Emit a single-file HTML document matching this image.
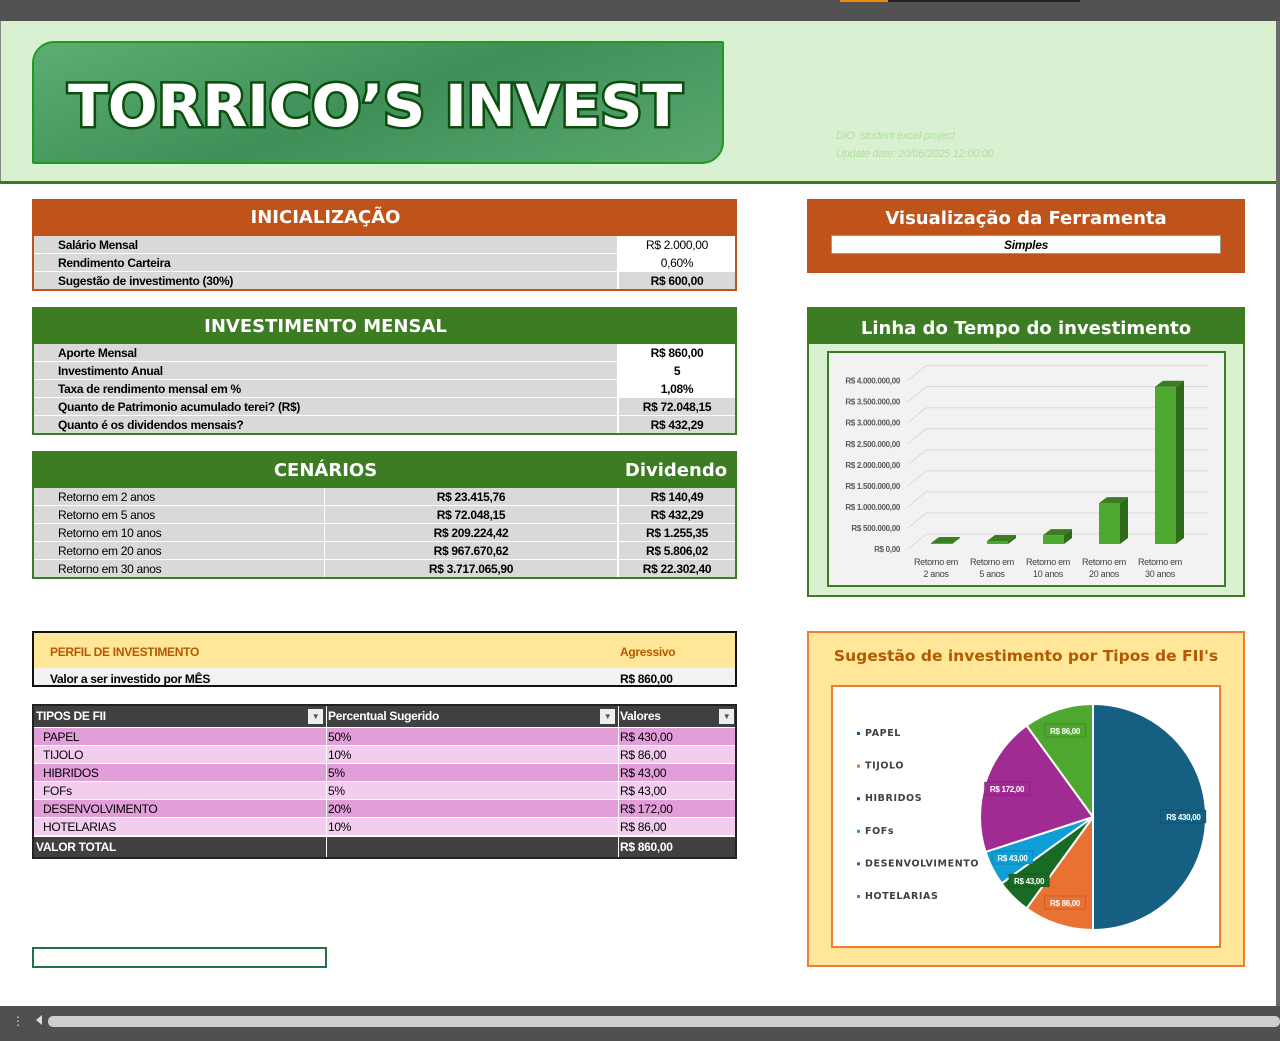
<!DOCTYPE html>
<html><head><meta charset="utf-8">
<style>
*{box-sizing:border-box;margin:0;padding:0}
body{width:1280px;height:1041px;position:relative;overflow:hidden;background:#fff;font-family:"Liberation Sans Narrow","Liberation Sans",sans-serif;font-size:12px;letter-spacing:-0.3px;color:#000}
.abs{position:absolute}
.hdr{color:#fff;font-family:"DejaVu Sans","Liberation Sans",sans-serif;font-weight:bold;font-size:18px;text-align:center;letter-spacing:0}
.row{position:absolute;left:0;height:18px;line-height:19px;border-bottom:1px solid #fff}
.lab{position:absolute;left:0;top:0;height:17px;background:#d9d9d9;padding-left:24px;font-weight:bold}
.val{position:absolute;top:0;height:17px;text-align:center}
.w{background:#fff}.g{background:#d9d9d9;font-weight:bold}
</style></head><body>
<div class="abs" style="left:0;top:0;width:1280px;height:21px;background:#525252"></div>
<div class="abs" style="left:840px;top:0;width:48px;height:2px;background:#f08a00"></div>
<div class="abs" style="left:888px;top:0;width:192px;height:2px;background:#222"></div>
<div class="abs" style="left:1276px;top:21px;width:4px;height:990px;background:#6a6a6a"></div>
<div class="abs" style="left:0;top:21px;width:1276px;height:161px;background:#daf1d1;border-left:1px solid #888"></div>
<div class="abs" style="left:0;top:181px;width:1276px;height:3px;background:#3a7a20"></div>
<div class="abs" style="left:32px;top:41px;width:692px;height:123px;background:linear-gradient(160deg,#5cae73,#3f8f58 50%,#5aa870);border:2px solid #1f9a1f;border-radius:22px 2px 22px 2px">
<svg width="692" height="123" style="position:absolute;left:-2px;top:-2px"><text x="36" y="85" textLength="614" lengthAdjust="spacingAndGlyphs" font-family="DejaVu Sans, Liberation Sans, sans-serif" font-weight="bold" font-size="58" fill="#fff" stroke="#0d4d0d" stroke-width="5" paint-order="stroke">TORRICO’S INVEST</text></svg></div>
<div class="abs" style="left:836px;top:130px;color:#b0dfa0;font-size:11px;font-style:italic">DIO&nbsp; student excel project</div>
<div class="abs" style="left:836px;top:148px;color:#b0dfa0;font-size:11px;font-style:italic">Update date: 20/06/2025 12:00:00</div>

<!-- INICIALIZACAO -->
<div class="abs" style="left:32px;top:199px;width:705px;height:92px;background:#c0531a;padding:0 2px 2px 2px">
<div class="hdr abs" style="left:0;top:8px;width:587px">INICIALIZAÇÃO</div>
<div class="abs" style="left:2px;top:37px;width:701px;height:53px;background:#fff">
<div class="row" style="top:0;width:701px"><div class="lab" style="width:583px">Salário Mensal</div><div class="val w" style="left:585px;width:116px;font-weight:normal">R$ 2.000,00</div></div>
<div class="row" style="top:18px;width:701px"><div class="lab" style="width:583px">Rendimento Carteira</div><div class="val w" style="left:585px;width:116px">0,60%</div></div>
<div class="row" style="top:36px;width:701px;border:0"><div class="lab" style="width:583px">Sugestão de investimento (30%)</div><div class="val g" style="left:585px;width:116px">R$ 600,00</div></div>
</div></div>

<!-- INVESTIMENTO MENSAL -->
<div class="abs" style="left:32px;top:307px;width:705px;height:128px;background:#3c7c22">
<div class="hdr abs" style="left:0;top:9px;width:587px">INVESTIMENTO MENSAL</div>
<div class="abs" style="left:2px;top:37px;width:701px;height:89px;background:#fff">
<div class="row" style="top:0;width:701px"><div class="lab" style="width:583px">Aporte Mensal</div><div class="val w" style="left:585px;width:116px;font-weight:bold">R$ 860,00</div></div>
<div class="row" style="top:18px;width:701px"><div class="lab" style="width:583px">Investimento Anual</div><div class="val w" style="left:585px;width:116px;font-weight:bold">5</div></div>
<div class="row" style="top:36px;width:701px"><div class="lab" style="width:583px">Taxa de rendimento mensal em %</div><div class="val w" style="left:585px;width:116px;font-weight:bold">1,08%</div></div>
<div class="row" style="top:54px;width:701px"><div class="lab" style="width:583px">Quanto de Patrimonio acumulado terei? (R$)</div><div class="val g" style="left:585px;width:116px">R$ 72.048,15</div></div>
<div class="row" style="top:72px;width:701px;border:0"><div class="lab" style="width:583px">Quanto é os dividendos mensais?</div><div class="val g" style="left:585px;width:116px">R$ 432,29</div></div>
</div></div>

<!-- CENARIOS -->
<div class="abs" style="left:32px;top:451px;width:705px;height:128px;background:#3c7c22">
<div class="hdr abs" style="left:0;top:9px;width:587px">CENÁRIOS</div>
<div class="hdr abs" style="left:585px;top:9px;width:118px">Dividendo</div>
<div class="abs" id="cen" style="left:2px;top:37px;width:701px;height:89px;background:#fff"></div>
</div>

<!-- PERFIL -->
<div class="abs" style="left:32px;top:631px;width:705px;height:56px;border:2px solid #111;background:#f2f2f2">
<div class="abs" style="left:0;top:0;width:701px;height:35px;background:#ffe699"></div>
<div class="abs" style="left:16px;top:12px;color:#b35a00;font-weight:bold">PERFIL DE INVESTIMENTO</div>
<div class="abs" style="left:586px;top:12px;color:#b35a00;font-weight:bold">Agressivo</div>
<div class="abs" style="left:16px;top:39px;font-weight:bold">Valor a ser investido por MÊS</div>
<div class="abs" style="left:586px;top:39px;font-weight:bold">R$ 860,00</div>
</div>

<!-- FII TABLE -->
<div class="abs" style="left:32px;top:704px;width:705px;height:155px;border:2px solid #222;background:#fff" id="fii"></div>

<div class="abs" style="left:32px;top:947px;width:295px;height:21px;border:2px solid #217346"></div>

<!-- Visualizacao -->
<div class="abs" style="left:807px;top:199px;width:438px;height:74px;background:#c0531a">
<div class="hdr abs" style="left:0;top:9px;width:438px">Visualização da Ferramenta</div>
<div class="abs" style="left:24px;top:36px;width:390px;height:19px;background:#fff;border:1px solid #999;text-align:center;font-style:italic;font-weight:bold;line-height:18px">Simples</div>
</div>

<!-- Linha do tempo -->
<div class="abs" style="left:807px;top:307px;width:438px;height:290px;background:#daf1d1;border:2px solid #3c7c22">
<div class="abs" style="left:0;top:0;width:434px;height:35px;background:#3c7c22"></div>
<div class="hdr abs" style="left:0;top:9px;width:434px">Linha do Tempo do investimento</div>
</div>
<svg class="abs" id="bar" style="left:0;top:0" width="1280" height="1041"></svg>

<!-- Pie panel -->
<div class="abs" style="left:807px;top:631px;width:438px;height:336px;background:#ffe699;border:2px solid #ed7d31">
<div class="abs" style="left:0;top:14px;width:434px;text-align:center;color:#b35a00;font-family:'DejaVu Sans','Liberation Sans',sans-serif;font-weight:bold;font-size:15.5px;letter-spacing:0">Sugestão de investimento por Tipos de FII's</div>
<div class="abs" style="left:22px;top:52px;width:390px;height:263px;background:#fff;border:2px solid #ed7d31"></div>
</div>
<svg class="abs" id="pie" style="left:0;top:0" width="1280" height="1041"></svg>

<!-- bottom -->
<div class="abs" style="left:0;top:1006px;width:1280px;height:35px;background:#505050"></div>
<div class="abs" style="left:12px;top:1014px;color:#ddd;font-size:12px">⋮</div>
<div class="abs" style="left:36px;top:1015px;width:0;height:0;border-top:5px solid transparent;border-bottom:5px solid transparent;border-right:6px solid #ddd"></div>
<div class="abs" style="left:48px;top:1016px;width:1232px;height:11px;background:#cfcfcf;border-radius:5px"></div>

<script>
// Cenarios table
const cenLabels=["Retorno em 2 anos","Retorno em 5 anos","Retorno em 10 anos","Retorno em 20 anos","Retorno em 30 anos"];
const cenValues=["R$ 23.415,76","R$ 72.048,15","R$ 209.224,42","R$ 967.670,62","R$ 3.717.065,90"];
const cenDivs=["R$ 140,49","R$ 432,29","R$ 1.255,35","R$ 5.806,02","R$ 22.302,40"];
const cen=document.getElementById('cen');
cenLabels.forEach((l,i)=>{
  const r=document.createElement('div');
  
  
  r.style.cssText=`position:absolute;left:0;top:${i*18}px;width:701px;height:17px;line-height:19px;background:#d9d9d9`;
  r.innerHTML=`<div style="position:absolute;left:24px">${l}</div><div style="position:absolute;left:290px;width:1px;height:17px;background:#fff"></div><div style="position:absolute;left:291px;width:292px;text-align:center;font-weight:bold">${cenValues[i]}</div><div style="position:absolute;left:583px;width:2px;height:17px;background:#fff"></div><div style="position:absolute;left:585px;width:116px;text-align:center;font-weight:bold">${cenDivs[i]}</div>`;
  cen.appendChild(r);
});
// FII table
const fiiTypes=["PAPEL","TIJOLO","HIBRIDOS","FOFs","DESENVOLVIMENTO","HOTELARIAS"];
const fiiPct=["50%","10%","5%","5%","20%","10%"];
const fiiVals=[430,86,43,43,172,86];
const fmt=v=>"R$ "+v.toFixed(2).replace('.',',');
const fii=document.getElementById('fii');
let h=`<div style="position:absolute;left:0;top:0;width:701px;height:21px;background:#404040;color:#fff;font-weight:bold;line-height:21px">
<div style="position:absolute;left:2px">TIPOS DE FII</div><div style="position:absolute;left:274px;top:3px;width:15px;height:15px;background:#eee;color:#555;font-size:8px;text-align:center;line-height:15px">▼</div>
<div style="position:absolute;left:292px;width:1px;height:21px;background:#fff"></div><div style="position:absolute;left:294px">Percentual Sugerido</div><div style="position:absolute;left:566px;top:3px;width:15px;height:15px;background:#eee;color:#555;font-size:8px;text-align:center;line-height:15px">▼</div>
<div style="position:absolute;left:584px;width:1px;height:21px;background:#fff"></div><div style="position:absolute;left:586px">Valores</div><div style="position:absolute;left:685px;top:3px;width:15px;height:15px;background:#eee;color:#555;font-size:8px;text-align:center;line-height:15px">▼</div></div>`;
fii.innerHTML=h;
fiiTypes.forEach((t,i)=>{
  const r=document.createElement('div');
  
  
  r.style.cssText=`position:absolute;left:0;top:${22+i*18}px;width:701px;height:17px;line-height:19px;background:${i%2?'#f2cdee':'#e29ed9'}`;
  r.innerHTML=`<div style="position:absolute;left:9px">${t}</div><div style="position:absolute;left:292px;width:1px;height:17px;background:#fff"></div><div style="position:absolute;left:294px">${fiiPct[i]}</div><div style="position:absolute;left:584px;width:1px;height:17px;background:#fff"></div><div style="position:absolute;left:586px">${fmt(fiiVals[i])}</div>`;
  fii.appendChild(r);
});
const tot=document.createElement('div');


tot.style.cssText='position:absolute;left:0;top:131px;width:701px;height:20px;line-height:20px;background:#404040;color:#fff;font-weight:bold';
tot.innerHTML='<div style="position:absolute;left:2px">VALOR TOTAL</div><div style="position:absolute;left:292px;width:1px;height:20px;background:#fff"></div><div style="position:absolute;left:584px;width:1px;height:20px;background:#fff"></div><div style="position:absolute;left:586px">R$ 860,00</div>';
fii.appendChild(tot);

// Bar chart
const barCats=[["Retorno em","2 anos"],["Retorno em","5 anos"],["Retorno em","10 anos"],["Retorno em","20 anos"],["Retorno em","30 anos"]];
const barValues=[23415.76,72048.15,209224.42,967670.62,3717065.90];
const yTicks=[0,500000,1000000,1500000,2000000,2500000,3000000,3500000,4000000];
const yTickLabels=["R$ 0,00","R$ 500.000,00","R$ 1.000.000,00","R$ 1.500.000,00","R$ 2.000.000,00","R$ 2.500.000,00","R$ 3.000.000,00","R$ 3.500.000,00","R$ 4.000.000,00"];
const NS="http://www.w3.org/2000/svg";
const bar=document.getElementById('bar');
function mk(svg,tag,attrs,txt){const e=document.createElementNS(NS,tag);for(const k in attrs)e.setAttribute(k,attrs[k]);if(txt!=null)e.textContent=txt;svg.appendChild(e);return e;}
const yFront=v=>544-v*42.3/1e6;
const yBack=v=>534-v*42.1/1e6;
const xCat=i=>936+56*i;
const box=mk(bar,'rect',{x:828,y:352,width:397,height:234,fill:'#f2f2f2',stroke:'#3c7c22','stroke-width':2});

yTicks.forEach((t,i)=>{
  const gl=mk(bar,'line',{x1:926,x2:1208,y1:yBack(t),y2:yBack(t),stroke:'#d9d9d9','stroke-width':1});
  
  mk(bar,'line',{x1:908,x2:926,y1:yBack(t)+15,y2:yBack(t),stroke:'#d9d9d9','stroke-width':1});
  const tl=mk(bar,'text',{x:900,y:yBack(t)+18,'text-anchor':'end','font-size':8,'font-weight':'bold',fill:'#595959','font-family':'Liberation Sans Narrow, Liberation Sans, sans-serif'},yTickLabels[i]);
  
});
barValues.forEach((v,i)=>{
  const x0=xCat(i)-5,w=21,dx=8,dy=6,top=yFront(v),bot=544;
  const g=mk(bar,'g',{});
  
  mk(g,'polygon',{points:`${x0+w},${top} ${x0+w+dx},${top-dy} ${x0+w+dx},${bot-dy} ${x0+w},${bot}`,fill:'#2f6a1c'});
  mk(g,'rect',{x:x0,y:top,width:w,height:Math.max(bot-top,0.5),fill:'#4ea72e'});
  mk(g,'polygon',{points:`${x0},${top} ${x0+dx},${top-dy} ${x0+w+dx},${top-dy} ${x0+w},${top}`,fill:'#3a7d22'});
  barCats[i].forEach((s,j)=>{
    const t=mk(bar,'text',{x:xCat(i),y:565+j*12,'text-anchor':'middle','font-size':9,fill:'#404040','font-family':'Liberation Sans Narrow, Liberation Sans, sans-serif'},s);
    
  });
});

// Pie chart
const pieLabels=["PAPEL","TIJOLO","HIBRIDOS","FOFs","DESENVOLVIMENTO","HOTELARIAS"];
const pieValues=[430,86,43,43,172,86];
const pieColors=["#156082","#e97132","#196b24","#0f9ed5","#a02b93","#4ea72e"];
const pie=document.getElementById('pie');
const cx=1093,cy=817,R=113;
const total=pieValues.reduce((a,b)=>a+b,0);
let acc=0;
const pt=(a,r)=>[cx+Math.sin(a)*r,cy-Math.cos(a)*r];
pieValues.forEach((v,i)=>{
  const a0=acc/total*2*Math.PI;acc+=v;const a1=acc/total*2*Math.PI;
  const [x0,y0]=pt(a0,R),[x1,y1]=pt(a1,R);
  const p=mk(pie,'path',{d:`M${cx},${cy} L${x0},${y0} A${R},${R} 0 ${a1-a0>Math.PI?1:0} 1 ${x1},${y1} Z`,fill:pieColors[i],stroke:'#fff','stroke-width':2});
  
});
acc=0;
pieValues.forEach((v,i)=>{
  const a0=acc/total*2*Math.PI;acc+=v;const a1=acc/total*2*Math.PI;
  const [lx,ly]=pt((a0+a1)/2,R*0.8);
  const txt=fmt(v);
  const wdt=txt.length*4.6+4;
  mk(pie,'rect',{x:lx-wdt/2,y:ly-7,width:wdt,height:13,fill:pieColors[i],stroke:'rgba(0,0,0,0.15)'});
  const t=mk(pie,'text',{x:lx,y:ly+3,'text-anchor':'middle','font-size':8,'font-weight':'bold',fill:'#fff','font-family':'Liberation Sans, sans-serif'},txt);
  
  const ly2=736+i*32.6;
  mk(pie,'rect',{x:857,y:ly2-4,width:3,height:3,fill:pieColors[i]});
  const lt=mk(pie,'text',{x:865,y:ly2,'font-size':9.5,'font-weight':'bold',fill:'#404040','letter-spacing':'0.6','font-family':'DejaVu Sans, Liberation Sans, sans-serif'},pieLabels[i]);
  
});
</script>
</body></html>
